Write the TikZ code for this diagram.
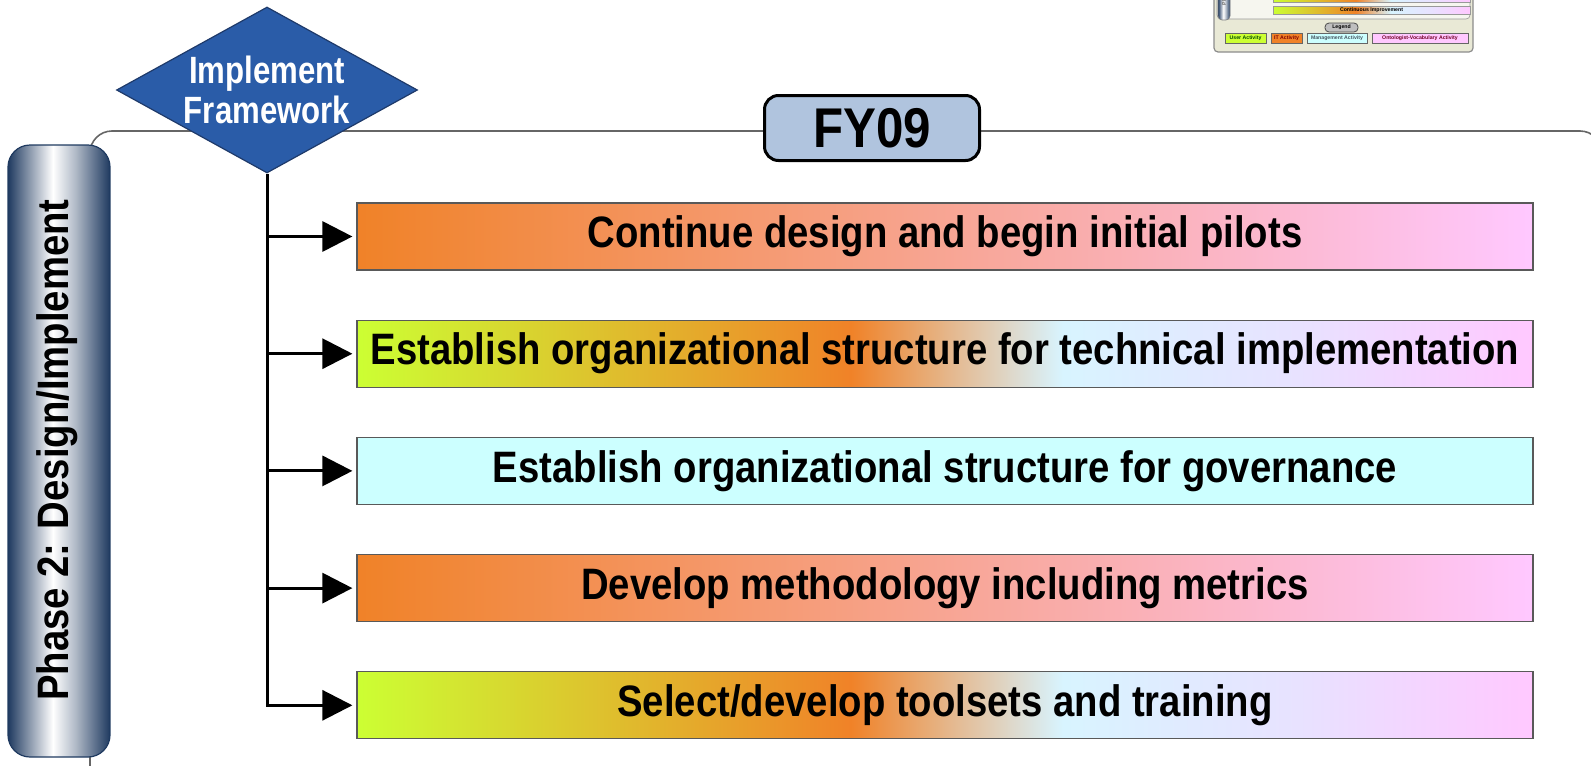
\documentclass[tikz,border=0pt]{standalone}
\usepackage{fontspec}
\setmainfont{Liberation Sans}
\newfontfamily\taskfont{Liberation Sans}[FakeStretch=0.87]
\newfontfamily\diafont{Liberation Sans}[FakeStretch=0.82]
\newfontfamily\yearfont{Liberation Sans}[FakeStretch=0.88]
\usetikzlibrary{shapes.geometric, arrows.meta, positioning}

\definecolor{itorange}{RGB}{240,130,40}
\definecolor{userlime}{RGB}{204,255,51}
\definecolor{mgmtcyan}{RGB}{204,255,255}
\definecolor{ontopink}{RGB}{255,200,255}
\definecolor{iceblue}{RGB}{216,244,255}
\definecolor{lavender}{RGB}{232,226,255}
\definecolor{diablue}{RGB}{42,92,168}
\definecolor{diaedge}{RGB}{30,58,106}
\definecolor{fysteel}{RGB}{176,196,222}
\definecolor{pillnavy}{RGB}{31,58,96}
\definecolor{thumbbeige}{RGB}{233,233,214}

\pgfdeclarehorizontalshading{orangepink}{100bp}{color(0bp)=(itorange); color(25bp)=(itorange); color(75bp)=(ontopink); color(100bp)=(ontopink)}
\pgfdeclarehorizontalshading{mixed}{100bp}{color(0bp)=(userlime); color(25bp)=(userlime); color(46bp)=(itorange); color(55bp)=(iceblue); color(65bp)=(lavender); color(75bp)=(ontopink); color(100bp)=(ontopink)}
\pgfdeclarehorizontalshading{steelpill}{100bp}{color(0bp)=(pillnavy); color(25bp)=(pillnavy); color(36bp)=(pillnavy!50!white); color(47bp)=(white); color(58bp)=(pillnavy!35!white); color(75bp)=(pillnavy); color(100bp)=(pillnavy)}

\begin{document}
\begin{tikzpicture}[
        x=0.5pt, y=-0.5pt,
        node distance=24.5pt,
        task/.style={rectangle, draw=black!65, line width=0.6pt, shade, minimum width=588pt, minimum height=33.5pt, inner sep=0pt, font=\taskfont\bfseries\fontsize{22}{24}\selectfont},
        decision/.style={diamond, aspect=1.8, draw=diaedge, line width=0.6pt, fill=diablue, text=white, align=center, inner sep=0pt, minimum width=150.5pt, minimum height=83pt, font=\diafont\bfseries\fontsize{19}{20}\selectfont},
        yearbox/.style={rectangle, rounded corners=7pt, draw=black, line width=1.5pt, fill=fysteel, minimum width=107.5pt, minimum height=32.5pt, font=\yearfont\bfseries\fontsize{28}{30}\selectfont},
        phasebar/.style={rectangle, rounded corners=11pt, draw=pillnavy, line width=0.6pt, shade, shading=steelpill, minimum width=51pt, minimum height=306pt},
        phasetext/.style={font=\taskfont\bfseries\fontsize{22}{24}\selectfont},
        branch/.style={-{Triangle[length=15pt, width=15pt]}, line width=1.5pt, shorten >=2pt},
        frameline/.style={draw=black!60, line width=0.8pt, rounded corners=11pt},
        mini/.style={font=\bfseries\fontsize{2.6}{3}\selectfont, inner sep=0pt},
        legendkey/.style={mini, rectangle, draw=black!60, line width=0.3pt, minimum height=5pt}
    ]
    \useasboundingbox (0,0) rectangle (1591,766);
    \clip (0,0) rectangle (1591,766);

    % --- thumbnail of the whole roadmap (top right) ---
    \draw[fill=thumbbeige, draw=black!45, line width=0.6pt, rounded corners=2pt] (1214,-20) rectangle (1473,52);
    \draw[fill=white!60!thumbbeige, draw=black!40, line width=0.3pt, rounded corners=2pt] (1217,-20) rectangle (1470,19);
    \node[rectangle, rounded corners=2pt, draw=black!50, line width=0.3pt, shade, shading=steelpill, minimum width=6pt, minimum height=18pt, inner sep=0pt] (miniphase) at (1224,2) {};
    \node[mini, rotate=90, text=black!60] at (miniphase.center) {Ph};
    \node[rectangle, shade, shading=mixed, draw=black!40, line width=0.2pt, minimum width=98.5pt, minimum height=4pt, inner sep=0pt] (minibar) at (1371.5,-2) {};
    \node[mini, rectangle, shade, shading=mixed, draw=black!40, line width=0.2pt, minimum width=98.5pt, minimum height=4pt] (improve) at (1371.5,10) {Continuous Improvement};
    \node[mini, rectangle, rounded corners=2pt, draw=black!70, line width=0.4pt, fill=black!25, minimum width=16.5pt, minimum height=4.5pt] (legend) at (1341.5,27.5) {Legend};
    \node[legendkey, fill=userlime, minimum width=20.5pt, text=black!70!green] (userkey) at (1245.5,38) {User Activity};
    \node[legendkey, fill=itorange, minimum width=15.5pt, text=red!50!black] (itkey) at (1286.5,38) {IT Activity};
    \node[legendkey, fill=mgmtcyan, minimum width=30pt, text=cyan!30!black] (mgmtkey) at (1337,38) {Management Activity};
    \node[legendkey, fill=ontopink, minimum width=48pt, text=purple!60!black] (ontokey) at (1420,38) {Ontologist-Vocabulary Activity};

    % --- phase frame ---
    \draw[frameline] (90,131) rectangle (1602,790);
    \node[phasebar] (phase) at (59,451) {};
    \node[phasetext, rotate=90] (phaselabel) at (57,450) {Phase 2: Design/Implement};

    \node[decision] (impl) at (267,90) {Implement\\Framework};
    \node[yearbox] (fy) at (872,128) {FY09};

    % --- activities ---
    \node[task, shading=orangepink] (pilots) at (945,236.5) {Continue design and begin initial pilots};
    \node[task, shading=mixed, below=of pilots] (techorg) {Establish organizational structure for technical implementation};
    \node[task, fill=mgmtcyan, shade=false, below=of techorg] (govorg) {Establish organizational structure for governance};
    \node[task, shading=orangepink, below=of govorg] (method) {Develop methodology including metrics};
    \node[task, shading=mixed, below=of method] (tools) {Select/develop toolsets and training};

    \draw[branch] (impl.south) |- (tools.west);
    \foreach \t in {pilots, techorg, govorg, method}
        \draw[branch] (impl.south |- \t.west) -- (\t.west);

\end{tikzpicture}
\end{document}
